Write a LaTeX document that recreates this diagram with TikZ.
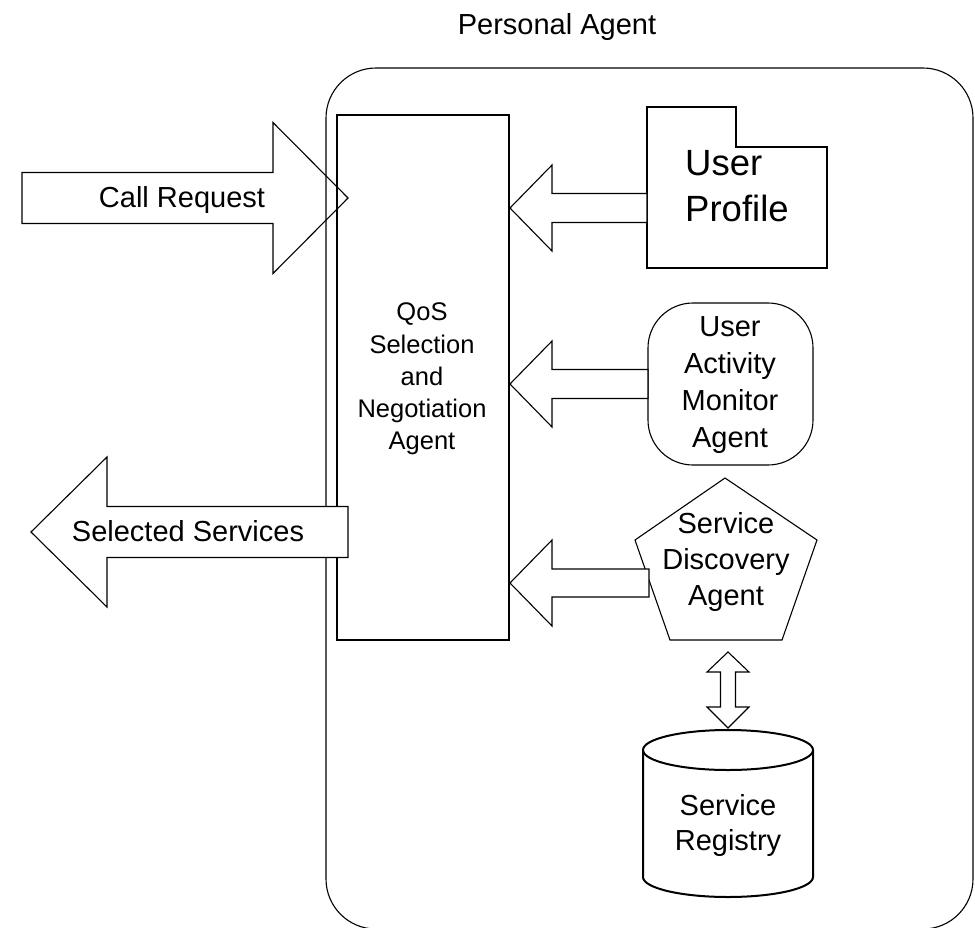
\documentclass[tikz,border=0pt]{standalone}
\usepackage{fontspec}
\setmainfont{Liberation Sans}
\usetikzlibrary{calc}

% Horizontal block arrow: tip, tail (same height), signed head length,
% half height of the shaft, half height of the head
\newcommand\hblockarrow[5]{%
  \draw[blockarrow] let \p1=(#1), \p2=(#2) in
    (\x1,\y1) -- (\x1+#3pt,\y1+#5pt) -- (\x1+#3pt,\y1+#4pt) -- (\x2,\y1+#4pt)
    -- (\x2,\y1-#4pt) -- (\x1+#3pt,\y1-#4pt) -- (\x1+#3pt,\y1-#5pt) -- cycle;}

\tikzset{
  thinline/.style={draw=black, line width=1.1pt},
  thickline/.style={draw=black, line width=2pt},
  blockarrow/.style={thinline, fill=white, line join=miter},
  lbl/.style={font=\fontsize{29}{36.5}\selectfont, align=center, inner sep=0pt},
}

\begin{document}
\begin{tikzpicture}[x=1pt, y=-1pt]
\useasboundingbox (0,0) rectangle (975,927);

% incoming call request, passing under the agent frames
\coordinate (crtip) at (348,198);
\coordinate (crtail) at (22,198);
\hblockarrow{crtip}{crtail}{-75}{25.5}{75.5}
\node[lbl, anchor=base] (cr) at (182,207) {Call Request};

% title and personal agent frame
\node[lbl, anchor=base] (title) at (557,34) {Personal Agent};
\begin{scope}
  \clip (0,0) rectangle (975,927);
  \draw[thinline, rounded corners=50pt] (326,68) rectangle (973,929);
\end{scope}
\coordinate (pa) at (649.5,498);

% QoS selection and negotiation agent
\node[thinline, minimum width=172pt, minimum height=525pt, inner sep=0pt] (qos) at (423,377.5) {};
\node[lbl, font=\fontsize{25.5}{32.2}\selectfont] (qostext) at (422,379) {QoS\\Selection\\and\\Negotiation\\Agent};

% user profile (folder shape)
\draw[thickline, fill=white] (647,107) -- (736,107) -- (736,147) -- (827,147) -- (827,268) -- (647,268) -- cycle;
\node[lbl, align=left, anchor=west, font=\fontsize{36.5}{45.6}\selectfont] (up) at (685,186) {User\\Profile};

% user activity monitor agent
\node[thinline, fill=white, rounded corners=45pt, minimum width=165pt, minimum height=162pt, inner sep=0pt] (uam) at (730.5,384) {};
\node[lbl, font=\fontsize{29}{36.8}\selectfont] (uamtext) at (730,385) {User\\Activity\\Monitor\\Agent};

% service discovery agent (pentagon)
\draw[thinline, fill=white] (725,478) -- (817,540) -- (782,640) -- (670,640) -- (635,540) -- cycle;
\node[lbl, font=\fontsize{29}{35.6}\selectfont] (sda) at (726,562) {Service\\Discovery\\Agent};

% service registry (cylinder)
\draw[thickline, fill=white] (643,750) -- (643,877) arc[start angle=180, end angle=360, x radius=85, y radius=-20] -- (813,750);
\draw[thickline] (728,750) ellipse[x radius=85, y radius=20];
\node[lbl, font=\fontsize{29}{34.2}\selectfont] (reg) at (728,825.5) {Service\\Registry};

% inputs into the QoS agent
\coordinate (uptip) at (510,208);
\coordinate (uptail) at (647,208);
\hblockarrow{uptip}{uptail}{42}{14.5}{43}
\coordinate (uamtip) at (510,384);
\coordinate (uamtail) at (648,384);
\hblockarrow{uamtip}{uamtail}{42}{14.5}{43}
\coordinate (sdatip) at (510,583);
\coordinate (sdatail) at (649,583);
\hblockarrow{sdatip}{sdatail}{42}{14}{43}

% discovery agent <-> registry
\coordinate (dtop) at (728,652);
\coordinate (dbot) at (728,728);
\draw[blockarrow] let \p1=(dtop), \p2=(dbot) in
  (\p1) -- (\x1+21pt,\y1-20pt) -- (\x1+7.5pt,\y1-20pt) -- (\x1+7.5pt,\y2+21pt)
  -- (\x1+21pt,\y2+21pt) -- (\p2) -- (\x1-21pt,\y2+21pt) -- (\x1-7.5pt,\y2+21pt)
  -- (\x1-7.5pt,\y1-20pt) -- (\x1-21pt,\y1-20pt) -- cycle;

% outgoing selected services, drawn over the frames
\coordinate (sstip) at (31,532);
\coordinate (sstail) at (348,532);
\hblockarrow{sstip}{sstail}{76}{25.5}{75}
\node[lbl, anchor=base] (ss) at (188,541.7) {Selected Services};
\end{tikzpicture}
\end{document}
